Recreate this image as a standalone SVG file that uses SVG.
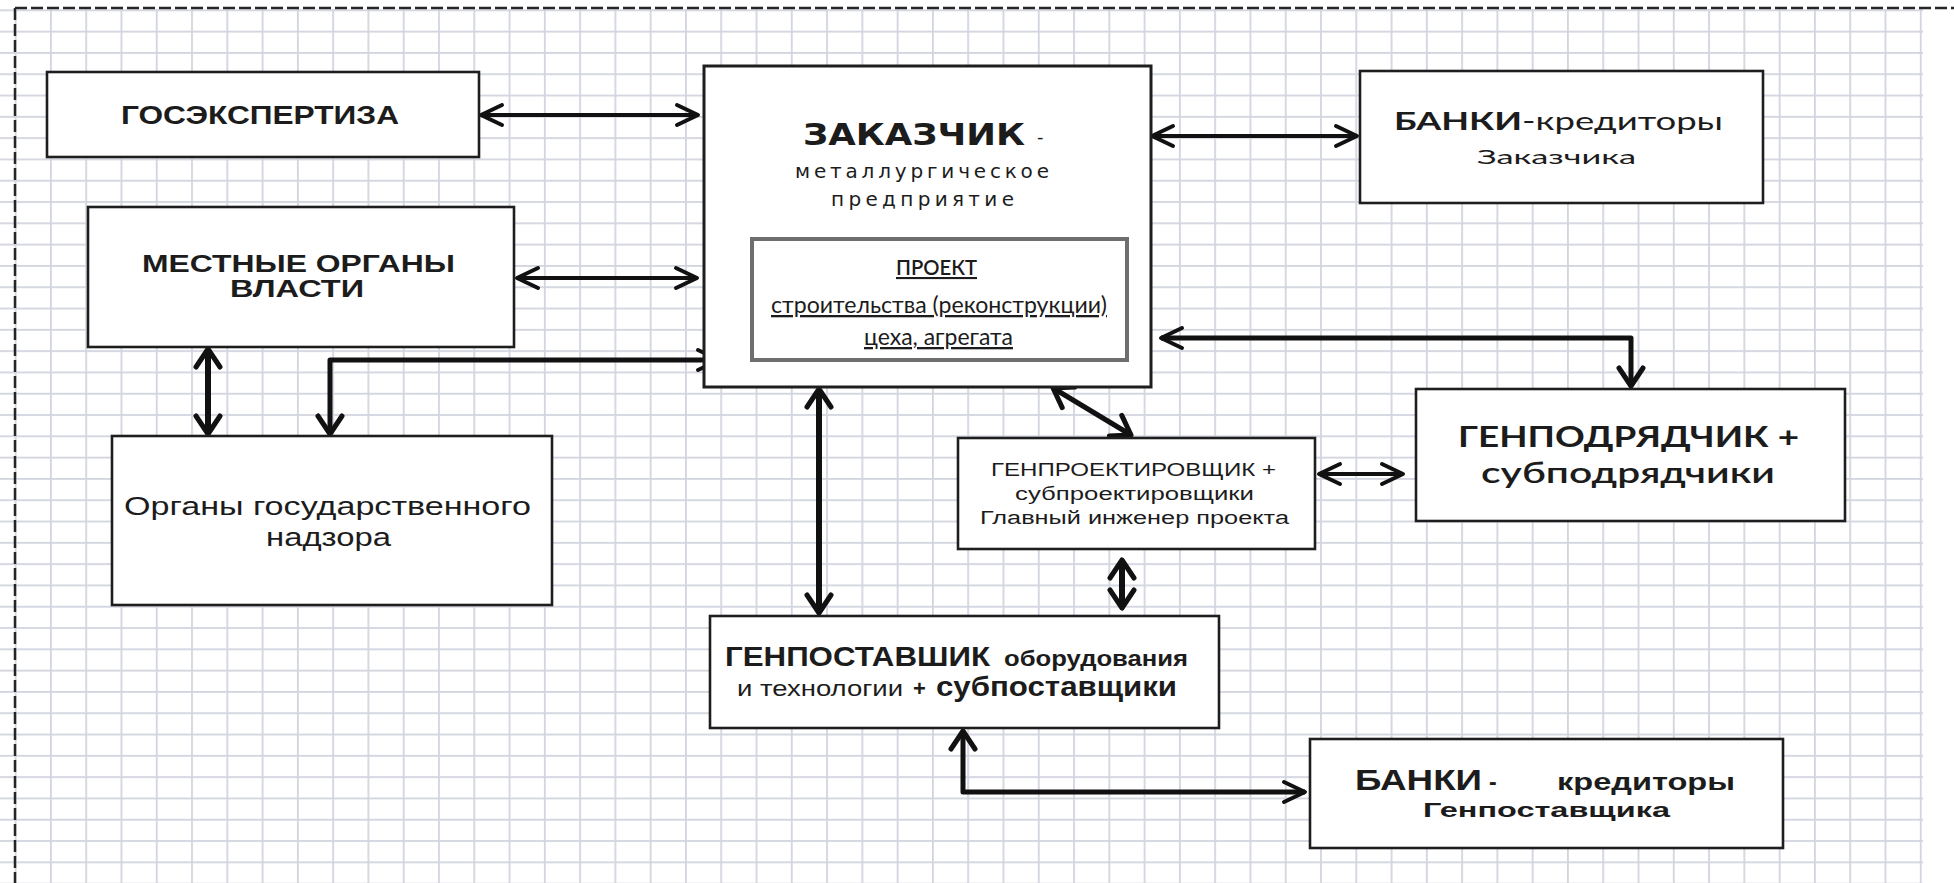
<svg xmlns="http://www.w3.org/2000/svg" width="1954" height="883" viewBox="0 0 1954 883">
<style>
.box{fill:#fff;stroke:#1e1e1e;stroke-width:2.6}
.ar{font-family:"Liberation Sans",Arial,sans-serif;fill:#1c1c1c}
.vd{font-family:"DejaVu Sans",Verdana,sans-serif;fill:#1c1c1c}
.cb{font-family:Lato,"Open Sans",sans-serif;fill:#1c1c1c}
.b{font-weight:bold}
.u{text-decoration:underline}
.cn{fill:none;stroke:#111;stroke-linecap:butt;stroke-linejoin:round}
.h{stroke-width:4}
.v{stroke-width:6}
.e{stroke-width:5}
</style>
<defs>
<pattern id="grid" patternUnits="userSpaceOnUse" x="14.7" y="9.4" width="35.28" height="21.3">
<rect x="0" y="0" width="1.8" height="21.3" fill="#d2d4df"/>
<rect x="0" y="0" width="35.28" height="1.8" fill="#d2d4df"/>
</pattern>
<marker id="ah" markerUnits="userSpaceOnUse" markerWidth="40" markerHeight="40" refX="0" refY="0" orient="auto-start-reverse" overflow="visible" viewBox="-30 -20 40 40">
<path d="M-21,-10 L0,0 L-21,10" fill="none" stroke="#111" stroke-width="4" stroke-linejoin="round" stroke-linecap="round"/>
</marker>
<marker id="av" markerUnits="userSpaceOnUse" markerWidth="40" markerHeight="40" refX="0" refY="0" orient="auto-start-reverse" overflow="visible" viewBox="-30 -20 40 40">
<path d="M-18,-12 L0,0 L-18,12" fill="none" stroke="#111" stroke-width="5" stroke-linejoin="round" stroke-linecap="round"/>
</marker>
</defs>

<rect x="0" y="0" width="1954" height="883" fill="#fff"/>
<rect x="0" y="9" width="1923" height="874" fill="url(#grid)"/>
<path d="M15,8 H1954 M15,8 V883" fill="none" stroke="#262626" stroke-width="2.5" stroke-dasharray="12 4"/>

<g id="connectors">
<line class="cn h" x1="481" y1="115" x2="698" y2="115" marker-start="url(#ah)" marker-end="url(#ah)"/>
<line class="cn h" x1="517" y1="278" x2="697" y2="278" marker-start="url(#ah)" marker-end="url(#ah)"/>
<line class="cn v" x1="208" y1="349" x2="208" y2="434" marker-start="url(#av)" marker-end="url(#av)"/>
<path class="cn e" d="M330,434 V360 H719" marker-start="url(#av)" marker-end="url(#ah)"/>
<line class="cn h" x1="1152" y1="136" x2="1357" y2="136" marker-start="url(#ah)" marker-end="url(#ah)"/>
<path class="cn e" d="M1161,338 H1631 V386" marker-start="url(#ah)" marker-end="url(#av)"/>
<line class="cn v" x1="819" y1="389" x2="819" y2="613" marker-start="url(#av)" marker-end="url(#av)"/>
<line class="cn e" x1="1053" y1="388" x2="1131" y2="435" marker-start="url(#av)" marker-end="url(#av)"/>
<line class="cn h" x1="1319" y1="474" x2="1403" y2="474" marker-start="url(#ah)" marker-end="url(#ah)"/>
<line class="cn v" x1="1122" y1="560" x2="1122" y2="608" marker-start="url(#av)" marker-end="url(#av)"/>
<path class="cn e" d="M963,731 V792 H1305" marker-start="url(#av)" marker-end="url(#ah)"/>
</g>

<g id="gosekspertiza">
<rect class="box" x="47" y="72" width="432" height="85"/>
<text class="ar b" x="121" y="124" font-size="26" textLength="278" lengthAdjust="spacingAndGlyphs">ГОСЭКСПЕРТИЗА</text>
</g>

<g id="mestnye-organy">
<rect class="box" x="88" y="207" width="426" height="140"/>
<text class="ar b" x="142" y="272" font-size="24" textLength="313" lengthAdjust="spacingAndGlyphs">МЕСТНЫЕ ОРГАНЫ</text>
<text class="ar b" x="230" y="297" font-size="24" textLength="134" lengthAdjust="spacingAndGlyphs">ВЛАСТИ</text>
</g>

<g id="organy-nadzora">
<rect class="box" x="112" y="436" width="440" height="169"/>
<text class="ar" x="124" y="515" font-size="25" textLength="407" lengthAdjust="spacingAndGlyphs">Органы государственного</text>
<text class="ar" x="266" y="546" font-size="25" textLength="125" lengthAdjust="spacingAndGlyphs">надзора</text>
</g>

<g id="zakazchik">
<rect class="box" x="704" y="66" width="447" height="321" style="stroke-width:3"/>
<text class="vd b" x="803" y="145" font-size="30" textLength="222" lengthAdjust="spacingAndGlyphs">ЗАКАЗЧИК</text>
<text class="vd" x="1037" y="143" font-size="18">-</text>
<text class="vd" x="795" y="178" font-size="20" textLength="254">металлургическое</text>
<text class="vd" x="831" y="206" font-size="20" textLength="183">предприятие</text>
<g id="proekt">
<rect x="752" y="239" width="375" height="121" fill="#fff" stroke="#6e6e6e" stroke-width="4"/>
<text class="cb u" x="896" y="275" font-size="21" textLength="81" lengthAdjust="spacingAndGlyphs" style="font-weight:600">ПРОЕКТ</text>
<text class="cb u" x="771" y="313" font-size="23" textLength="336" lengthAdjust="spacingAndGlyphs">строительства (реконструкции)</text>
<text class="cb u" x="864" y="345" font-size="23" textLength="149" lengthAdjust="spacingAndGlyphs">цеха, агрегата</text>
</g>
</g>

<g id="banki-zakazchika">
<rect class="box" x="1360" y="71" width="403" height="132"/>
<text class="cb b" x="1394" y="130" font-size="25" textLength="128" lengthAdjust="spacingAndGlyphs">БАНКИ</text>
<text class="cb" x="1522" y="130" font-size="25" textLength="201" lengthAdjust="spacingAndGlyphs">-кредиторы</text>
<text class="cb" x="1477" y="164" font-size="19" textLength="159" lengthAdjust="spacingAndGlyphs">Заказчика</text>
</g>

<g id="genpodryadchik">
<rect class="box" x="1416" y="389" width="429" height="132"/>
<text class="cb b" x="1458" y="447" font-size="28" textLength="341" lengthAdjust="spacingAndGlyphs">ГЕНПОДРЯДЧИК +</text>
<text class="cb" x="1481" y="483" font-size="29" textLength="294" lengthAdjust="spacingAndGlyphs" style="font-weight:600">субподрядчики</text>
</g>

<g id="genproektirovshchik">
<rect class="box" x="958" y="438" width="357" height="111"/>
<text class="ar" x="991" y="476" font-size="18" textLength="285" lengthAdjust="spacingAndGlyphs">ГЕНПРОЕКТИРОВЩИК +</text>
<text class="ar" x="1015" y="500" font-size="18" textLength="239" lengthAdjust="spacingAndGlyphs">субпроектировщики</text>
<text class="ar" x="980" y="524" font-size="18" textLength="309" lengthAdjust="spacingAndGlyphs">Главный инженер проекта</text>
</g>

<g id="genpostavshchik">
<rect class="box" x="710" y="616" width="509" height="112"/>
<text class="ar b" x="725" y="666" font-size="27" textLength="265" lengthAdjust="spacingAndGlyphs">ГЕНПОСТАВШИК</text>
<text class="ar b" x="1004" y="666" font-size="22" textLength="184" lengthAdjust="spacingAndGlyphs">оборудования</text>
<text class="ar" x="737" y="696" font-size="22" textLength="166" lengthAdjust="spacingAndGlyphs">и технологии</text>
<text class="ar b" x="913" y="696" font-size="22">+</text>
<text class="ar b" x="936" y="696" font-size="27" textLength="241" lengthAdjust="spacingAndGlyphs">субпоставщики</text>
</g>

<g id="banki-genpostavshchika">
<rect class="box" x="1310" y="739" width="473" height="109"/>
<text class="ar b" x="1355" y="790" font-size="29" textLength="127" lengthAdjust="spacingAndGlyphs">БАНКИ</text>
<text class="ar b" x="1489" y="790" font-size="23">-</text>
<text class="ar b" x="1557" y="790" font-size="23" textLength="178" lengthAdjust="spacingAndGlyphs">кредиторы</text>
<text class="ar b" x="1423" y="817" font-size="21" textLength="247" lengthAdjust="spacingAndGlyphs">Генпоставщика</text>
</g>
</svg>
